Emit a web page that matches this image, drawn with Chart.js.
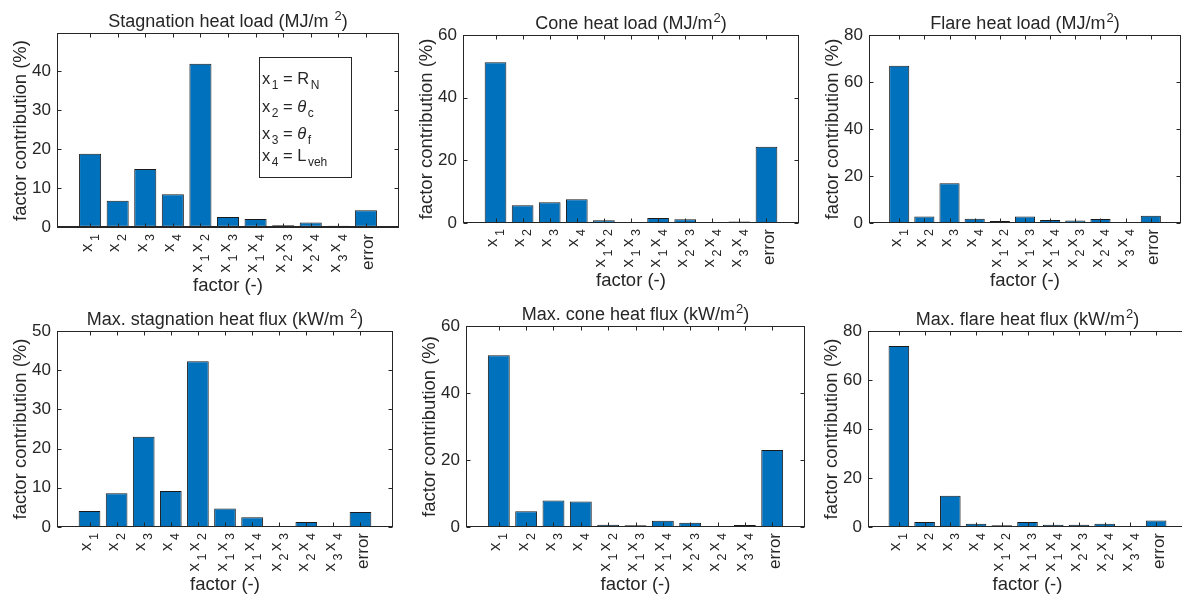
<!DOCTYPE html>
<html>
<head>
<meta charset="utf-8">
<script src="https://cdn.jsdelivr.net/npm/chart.js@4.4.1/dist/chart.umd.min.js"></script>
<style>
  html, body { margin: 0; padding: 0; background: #fff; overflow: hidden; width: 1182px; height: 597px; }
  canvas { position: absolute; }
</style>
</head>
<body>
<script>
// factors (TeX-ish: _ = subscript)
const factorLabels = ['x_1', 'x_2', 'x_3', 'x_4', 'x_1x_2', 'x_1x_3', 'x_1x_4', 'x_2x_3', 'x_2x_4', 'x_3x_4', 'error'];

// factor contribution (%) per response
const stagLoad  = [18.8, 6.7, 14.9, 8.4, 42.0, 2.5, 2.0, 0.4, 1.1, 0.3, 4.3];
const coneLoad  = [51.3, 5.7, 6.6, 7.6, 0.9, 0.2, 1.6, 1.2, 0.05, 0.5, 24.3];
const flareLoad = [66.9, 2.8, 16.9, 1.8, 0.8, 2.8, 1.3, 1.1, 1.7, 0.3, 3.1];
const stagFlux  = [4.1, 8.6, 23.0, 9.2, 42.3, 4.7, 2.5, 0.25, 1.3, 0.15, 3.8];
const coneFlux  = [51.3, 4.7, 7.9, 7.6, 0.7, 0.5, 1.9, 1.3, 0.2, 0.6, 23.0];
const flareFlux = [73.9, 2.0, 12.8, 1.35, 0.7, 2.0, 0.95, 0.95, 1.35, 0.3, 2.7];

// y tick labels
const ticksStagLoad = [0, 10, 20, 30, 40];
const ticksStagFlux = [0, 10, 20, 30, 40, 50];
const ticks60 = [0, 20, 40, 60];
const ticks80 = [0, 20, 40, 60, 80];

const legendLines = ['x_1 = R_N', 'x_2 = \\theta_c', 'x_3 = \\theta_f', 'x_4 = L_{veh}'];

const FONT = '"Liberation Sans", Arial, Helvetica, sans-serif';
const INK = '#262626';
const BAR = '#0072BD';

Chart.defaults.font.family = FONT;
Chart.defaults.color = INK;

function parseTex(s) {
  const out = [];
  let i = 0;
  while (i < s.length) {
    const c = s[i];
    if (c === '_' || c === '^') {
      let t;
      if (s[i + 1] === '{') { const j = s.indexOf('}', i); t = s.slice(i + 2, j); i = j + 1; }
      else { t = s[i + 1]; i += 2; }
      out.push({ t, k: c === '_' ? 'sub' : 'sup' });
    } else if (s.startsWith('\\theta', i)) {
      out.push({ t: '\u03B8', k: 'n', it: true }); i += 6;
    } else {
      let j = i;
      while (j < s.length && !'_^\\'.includes(s[j])) j++;
      out.push({ t: s.slice(i, j), k: 'n' }); i = j;
    }
  }
  return out;
}

function setFont(ctx, p, o) {
  ctx.font = (p.it ? 'italic ' : '') + (p.k === 'n' ? o.size : o.small) + 'px ' + FONT;
}

// width of a rich string; gaps around sub/superscripts
function richWidth(ctx, parts, o) {
  let w = 0;
  parts.forEach((p, i) => {
    setFont(ctx, p, o);
    w += ctx.measureText(p.t).width;
    if (p.k !== 'n') w += o.gap + (i < parts.length - 1 ? o.after : 0);
  });
  return w;
}

function drawRich(ctx, parts, x, y, o) {
  parts.forEach(p => {
    setFont(ctx, p, o);
    if (p.k !== 'n') x += o.gap;
    const dy = p.k === 'sub' ? o.subDy : p.k === 'sup' ? -o.supDy : 0;
    ctx.fillText(p.t, x, y + dy);
    x += ctx.measureText(p.t).width;
    if (p.k !== 'n') x += o.after;
  });
}

const tickText = { size: 17, small: 12.5, gap: 2.5, after: 2.5, subDy: 7, supDy: 7 };
const titleText = { size: 18, small: 13, gap: 1, after: 0, subDy: 6, supDy: 7 };
const legendText = { size: 16.5, small: 12, gap: 1.5, after: 0, subDy: 5, supDy: 7 };

const framePlugin = p => ({
  id: 'frame',
  afterDatasetsDraw(chart) {
    const { ctx, chartArea: a, scales: { x, y } } = chart;
    ctx.save();
    ctx.strokeStyle = INK;
    ctx.fillStyle = INK;
    ctx.lineWidth = 1;
    const l = Math.round(a.left) + 0.5, r = Math.round(a.right) - 0.5;
    const t = Math.round(a.top) + 0.5, b = Math.round(a.bottom) - 0.5;

    // bar baseline at zero
    const y0 = Math.round(y.getPixelForValue(0)) - 0.5;
    ctx.beginPath();
    ctx.moveTo(l, y0); ctx.lineTo(r, y0);
    ctx.stroke();

    ctx.strokeRect(l, t, r - l, b - t);
    ctx.beginPath();
    x.ticks.forEach(tk => {
      const px = Math.round(x.getPixelForValue(tk.value)) + 0.5;
      ctx.moveTo(px, b); ctx.lineTo(px, b - 4);
      ctx.moveTo(px, t); ctx.lineTo(px, t + 4);
    });
    y.ticks.forEach(tk => {
      const py = Math.round(y.getPixelForValue(tk.value)) + 0.5;
      ctx.moveTo(l, py); ctx.lineTo(l + 4, py);
      ctx.moveTo(r, py); ctx.lineTo(r - 4, py);
    });
    ctx.stroke();

    // rotated factor labels
    ctx.textAlign = 'left';
    ctx.textBaseline = 'alphabetic';
    factorLabels.forEach((lab, i) => {
      const parts = parseTex(lab);
      const hasSub = parts.some(q => q.k === 'sub');
      const w = richWidth(ctx, parts, tickText);
      ctx.save();
      ctx.translate(x.getPixelForValue(i), a.bottom + 6);
      ctx.rotate(-Math.PI / 2);
      drawRich(ctx, parts, -w, hasSub ? 1.5 : 7.5, tickText);
      ctx.restore();
    });

    // title
    const tp = parseTex(p.title);
    const tw = richWidth(ctx, tp, titleText);
    drawRich(ctx, tp, (a.left + a.right) / 2 - tw / 2, a.top - 6, titleText);

    // text box
    if (p.legend) {
      const bx = Math.round(a.left) + 202, by = Math.round(a.top) + 24;
      ctx.fillStyle = '#fff';
      ctx.fillRect(bx, by, 92, 120);
      ctx.strokeRect(bx + 0.5, by + 0.5, 92, 120);
      ctx.fillStyle = INK;
      const base = [51, 79, 106, 128];
      legendLines.forEach((ln, k) => drawRich(ctx, parseTex(ln), bx + 3, a.top + base[k], legendText));
    }
    ctx.restore();
  }
});

const panels = [
  { values: stagLoad,  ticks: ticksStagLoad, yMin: -0.3, yMax: 49.9, title: 'Stagnation heat load (MJ/m ^2)',      box: [57, 33, 342, 195], legend: true },
  { values: coneLoad,  ticks: ticks60,       yMin: 0,    yMax: 60,   title: 'Cone heat load (MJ/m^2)',             box: [463, 35, 336, 188] },
  { values: flareLoad, ticks: ticks80,       yMin: 0,    yMax: 80,   title: 'Flare heat load (MJ/m^2)',            box: [869, 35, 312, 188] },
  { values: stagFlux,  ticks: ticksStagFlux, yMin: 0,    yMax: 50,   title: 'Max. stagnation heat flux (kW/m ^2)', box: [57, 331, 336, 196] },
  { values: coneFlux,  ticks: ticks60,       yMin: 0,    yMax: 60,   title: 'Max. cone heat flux (kW/m^2)',        box: [466, 326, 339, 201] },
  { values: flareFlux, ticks: ticks80,       yMin: 0,    yMax: 80,   title: 'Max. flare heat flux (kW/m^2)',       box: [868, 331, 319, 196] }
];

const padL = 60, padT = 40, padR = 10, padB = 70;

panels.forEach(p => {
  const [L, T, W, H] = p.box;
  const cv = document.createElement('canvas');
  cv.width = W + padL + padR;
  cv.height = H + padT + padB;
  cv.style.left = (L - padL) + 'px';
  cv.style.top = (T - padT) + 'px';
  document.body.appendChild(cv);

  new Chart(cv, {
    type: 'bar',
    data: {
      datasets: [{
        data: p.values.map((v, i) => ({ x: i, y: v })),
        backgroundColor: BAR,
        borderColor: '#1a1a1a',
        borderWidth: 1,
        borderSkipped: false,
        minBarLength: 1,
        barPercentage: 0.8,
        categoryPercentage: 1
      }]
    },
    options: {
      responsive: false,
      animation: false,
      events: [],
      layout: { padding: { left: 0, top: padT, right: padR, bottom: 0 } },
      plugins: { legend: { display: false }, tooltip: { enabled: false } },
      scales: {
        x: {
          type: 'linear',
          min: -1.2,
          max: factorLabels.length + 0.2,
          offset: false,
          grid: { display: false, drawTicks: false },
          border: { display: false },
          ticks: { display: false },
          afterBuildTicks: s => { s.ticks = factorLabels.map((_, i) => ({ value: i })); },
          afterFit: s => { s.height = padB; },
          title: { display: true, text: 'factor (-)', color: INK, font: { size: 18.5, lineHeight: 1 }, padding: { top: 0, bottom: 3 } }
        },
        y: {
          min: p.yMin,
          max: p.yMax,
          grid: { display: false, drawTicks: false },
          border: { display: false },
          afterBuildTicks: s => { s.ticks = p.ticks.map(v => ({ value: v })); },
          afterFit: s => { s.width = padL; },
          ticks: { color: INK, font: { size: 17 }, padding: 6 },
          title: { display: true, text: 'factor contribution (%)', color: INK, font: { size: 18.5, lineHeight: 1 }, padding: { top: 15, bottom: 0 } }
        }
      }
    },
    plugins: [framePlugin(p)]
  });
});
</script>
</body>
</html>
